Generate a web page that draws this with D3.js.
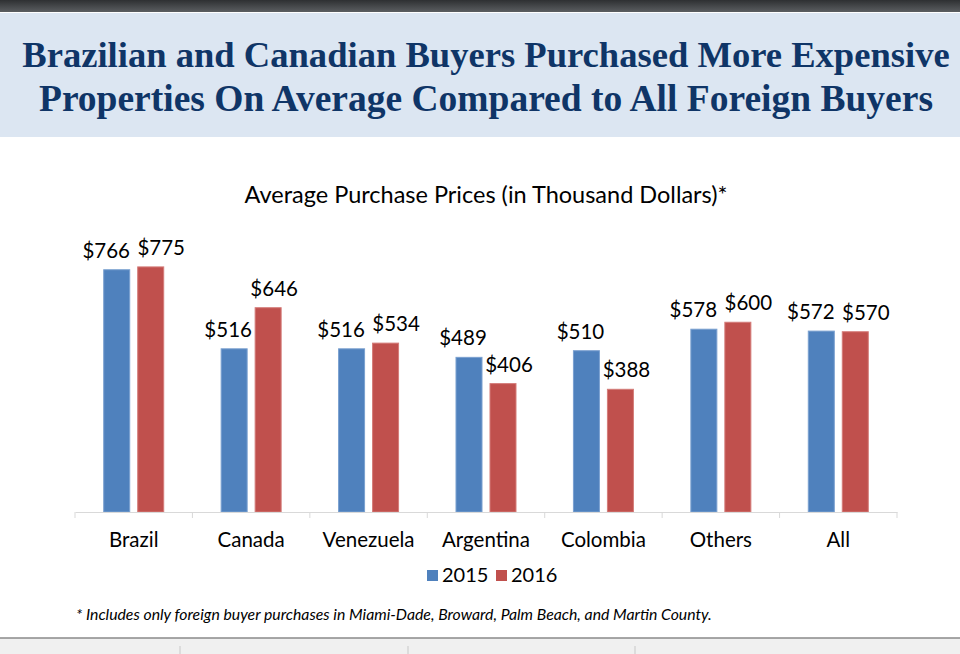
<!DOCTYPE html>
<html>
<head>
<meta charset="utf-8">
<script src="https://cdn.jsdelivr.net/npm/d3@7"></script>
<style>
  body { margin: 0; background: #fff; overflow: hidden; }
  svg { display: block; }
</style>
</head>
<body>
<div id="chart"></div>
<script>
// data
const categories = ["Brazil", "Canada", "Venezuela", "Argentina", "Colombia", "Others", "All"];
const years = ["2015", "2016"];
const values2015 = [766, 516, 516, 489, 510, 578, 572];
const values2016 = [775, 646, 534, 406, 388, 600, 570];
const titleLines = ["Brazilian and Canadian Buyers Purchased More Expensive",
                    "Properties On Average Compared to All Foreign Buyers"];
const chartTitle = "Average Purchase Prices (in Thousand Dollars)*";
const footnote = "* Includes only foreign buyer purchases in Miami-Dade, Broward, Palm Beach, and Martin County.";

const W = 960, H = 654;
const colors = { "2015": "#4f81bd", "2016": "#c0504d" };
const edge = { "2015": "#7aa0d0", "2016": "#d47c79" };
const font = "Lato, 'Open Sans', sans-serif";

const svg = d3.select("#chart").append("svg")
    .attr("width", W)
    .attr("height", H);

// window chrome: dark top strip
const grad = svg.append("defs").append("linearGradient")
    .attr("id", "topbar").attr("x1", 0).attr("y1", 0).attr("x2", 0).attr("y2", 1);
grad.append("stop").attr("offset", "0%").attr("stop-color", "#2e3032");
grad.append("stop").attr("offset", "100%").attr("stop-color", "#5b5e61");
svg.append("rect").attr("x", 0).attr("y", 0).attr("width", W).attr("height", 12)
    .attr("fill", "url(#topbar)");

// header band
svg.append("rect").attr("x", 0).attr("y", 13).attr("width", W).attr("height", 124)
    .attr("fill", "#dce6f2");

svg.selectAll(".headline")
    .data(titleLines)
    .enter().append("text")
    .attr("class", "headline")
    .attr("x", 486)
    .attr("y", (d, i) => 67 + i * 44)
    .attr("text-anchor", "middle")
    .style("font-family", "'Liberation Serif', 'Times New Roman', serif")
    .style("font-weight", "bold")
    .style("font-size", (d, i) => i === 0 ? "36.6px" : "37.5px")
    .attr("fill", "#0f3567")
    .text(d => d);

// chart area
const margin = { top: 259, left: 75, right: 63, bottom: 142 };
const baseY = H - margin.bottom;   // 512

const x = d3.scaleBand()
    .domain(categories)
    .range([margin.left, W - margin.right])
    .padding(0);

const xInner = d3.scaleBand()
    .domain(years)
    .range([x.bandwidth() / 2 - 30, x.bandwidth() / 2 + 30])
    .paddingInner(0.235)
    .paddingOuter(0);

const y = d3.scaleLinear()
    .domain([0, 800])
    .range([baseY, margin.top]);

const rows = categories.map((c, i) => ({
    cat: c,
    vals: [
        { year: "2015", v: values2015[i] },
        { year: "2016", v: values2016[i] }
    ]
}));

// push the two value labels apart when they sit at about the same height
rows.forEach(r => {
    let gap = Math.abs(y(r.vals[0].v) - y(r.vals[1].v));
    let shift = gap < 22 ? 10.5 : (gap < 50 ? 6 : 0);
    r.vals[0].dx = -shift;
    r.vals[1].dx = shift;
});

svg.append("text")
    .attr("x", 486)
    .attr("y", 203)
    .attr("text-anchor", "middle")
    .style("font-family", font)
    .style("font-size", "23.5px")
    .attr("fill", "#000")
    .text(chartTitle);

const groups = svg.selectAll(".cat")
    .data(rows)
    .enter().append("g")
    .attr("class", "cat")
    .attr("transform", d => "translate(" + x(d.cat) + ",0)");

groups.selectAll("rect")
    .data(d => d.vals)
    .enter().append("rect")
    .attr("x", d => xInner(d.year))
    .attr("y", d => y(d.v))
    .attr("width", xInner.bandwidth())
    .attr("height", d => baseY - y(d.v))
    .attr("fill", d => colors[d.year])
    .attr("stroke", d => edge[d.year])
    .attr("stroke-width", 1);

groups.selectAll(".val")
    .data(d => d.vals)
    .enter().append("text")
    .attr("class", "val")
    .attr("x", d => xInner(d.year) + xInner.bandwidth() / 2 + d.dx)
    .attr("y", d => y(d.v) - 12)
    .attr("text-anchor", "middle")
    .style("font-family", font)
    .style("font-size", "20.5px")
    .attr("fill", "#000")
    .text(d => "$" + d.v);

// x axis: line, boundary ticks, labels
const xAxis = d3.axisBottom(x).tickSize(0).tickPadding(20);
const gx = svg.append("g")
    .attr("transform", "translate(0," + baseY + ")")
    .call(xAxis);
gx.select(".domain").attr("stroke", "#d9d9d9").attr("stroke-width", 1.2);
gx.selectAll(".tick text")
    .style("font-family", font)
    .style("font-size", "20.5px")
    .attr("fill", "#000");

const bounds = categories.map(c => x(c)).concat([x.range()[1]]);
gx.selectAll(".bound")
    .data(bounds)
    .enter().append("line")
    .attr("class", "bound")
    .attr("x1", d => d).attr("x2", d => d)
    .attr("y1", 0).attr("y2", 6)
    .attr("stroke", "#d9d9d9");

// legend
const legend = svg.append("g").attr("transform", "translate(427,570)");
const items = legend.selectAll("g")
    .data(years)
    .enter().append("g")
    .attr("transform", (d, i) => "translate(" + i * 69 + ",0)");
items.append("rect")
    .attr("width", 11).attr("height", 11)
    .attr("fill", d => colors[d]);
items.append("text")
    .attr("x", 15)
    .attr("y", 12)
    .style("font-family", font)
    .style("font-size", "20px")
    .attr("fill", "#000")
    .text(d => d);

// footnote
svg.append("text")
    .attr("x", 76)
    .attr("y", 620)
    .style("font-family", font)
    .style("font-style", "italic")
    .style("font-size", "15.8px")
    .attr("fill", "#000")
    .text(footnote);

// bottom chrome
svg.append("rect").attr("x", 0).attr("y", 638).attr("width", W).attr("height", 16)
    .attr("fill", "#f0f0f0");
svg.append("line").attr("x1", 0).attr("x2", W).attr("y1", 638).attr("y2", 638)
    .attr("stroke", "#8a8a8a").attr("stroke-width", 1.5);
svg.selectAll(".divider")
    .data([180, 408, 635])
    .enter().append("line")
    .attr("class", "divider")
    .attr("x1", d => d).attr("x2", d => d)
    .attr("y1", 646).attr("y2", 654)
    .attr("stroke", "#c8c8c8");
</script>
</body>
</html>
